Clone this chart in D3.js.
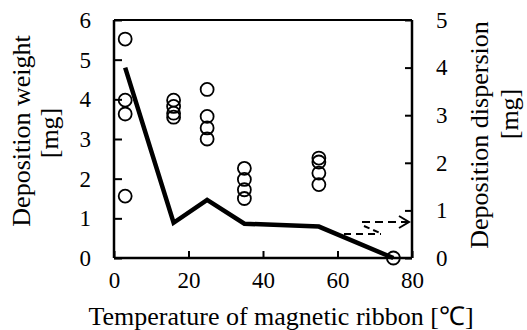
<!DOCTYPE html>
<html><head><meta charset="utf-8">
<script src="https://cdn.jsdelivr.net/npm/d3@7"></script>
<style>body{margin:0;background:#fff}svg{display:block}</style>
</head><body>
<script>
const temps = [3, 16, 25, 35, 55, 75];
const weights = [
  [5.52, 3.98, 3.63, 1.56],
  [3.98, 3.82, 3.65, 3.55],
  [4.25, 3.57, 3.28, 3.0],
  [2.26, 1.98, 1.72, 1.5],
  [2.52, 2.42, 2.14, 1.85],
  [0]
];
const dispersion = [4.0, 0.74, 1.22, 0.72, 0.66, 0];
const xTicks = [0, 20, 40, 60, 80];
const yLeftTicks = [0, 1, 2, 3, 4, 5, 6];
const yRightTicks = [0, 1, 2, 3, 4, 5];

const FONT = "Liberation Serif";
const W = 527, H = 330;
const L = 114, R = 412, T = 20, B = 258;
const svg = d3.select("body").append("svg").attr("width", W).attr("height", H)
  .attr("font-family", FONT);
const x = d3.scaleLinear().domain([0, 80]).range([L, R]);
const yL = d3.scaleLinear().domain([0, 6]).range([B, T]);
const yR = d3.scaleLinear().domain([0, 5]).range([B, T]);

svg.append("line").attr("x1", L).attr("x2", R).attr("y1", T).attr("y2", T).attr("stroke", "#000").attr("stroke-width", 2);

const axB = svg.append("g").attr("transform", `translate(0,${B})`)
  .call(d3.axisBottom(x).tickValues(xTicks).tickSize(-7).tickPadding(14).tickFormat(d3.format("d")));
const axL = svg.append("g").attr("transform", `translate(${L},0)`)
  .call(d3.axisLeft(yL).tickValues(yLeftTicks).tickSize(-8).tickPadding(23).tickFormat(d3.format("d")));
const axR = svg.append("g").attr("transform", `translate(${R},0)`)
  .call(d3.axisRight(yR).tickValues(yRightTicks).tickSize(-7).tickPadding(24).tickFormat(d3.format("d")));
[axB, axL, axR].forEach(a => {
  a.attr("font-family", FONT).attr("font-size", 23);
  a.select(".domain").attr("stroke", "#000").attr("stroke-width", 2.5);
  a.selectAll(".tick line").attr("stroke", "#000").attr("stroke-width", 2);
  a.selectAll(".tick text").attr("fill", "#000").attr("font-family", FONT).attr("font-size", 23);
});
axB.select(".domain").attr("d", `M${L},0H${R}`);
axL.select(".domain").attr("d", `M0,${B}V${T}`);
axR.select(".domain").attr("d", `M0,${B}V${T}`);

const pts = [];
temps.forEach((t, i) => weights[i].forEach(w => pts.push({t, w})));
svg.append("g").selectAll("circle").data(pts).join("circle")
  .attr("cx", d => x(d.t)).attr("cy", d => yL(d.w)).attr("r", 6.5)
  .attr("fill", "none").attr("stroke", "#000").attr("stroke-width", 1.8);

const line = d3.line().x((d, i) => x(temps[i])).y(d => yR(d));
svg.append("path").datum(dispersion).attr("d", line)
  .attr("fill", "none").attr("stroke", "#000").attr("stroke-width", 4.5).attr("stroke-linejoin", "miter");

const ar = svg.append("g").attr("stroke", "#000").attr("stroke-width", 2).attr("fill", "none");
ar.append("path").attr("d", "M362,222H408").attr("stroke-dasharray", "8,5");
ar.append("path").attr("d", "M399,216L409,222L399,228");
ar.append("path").attr("d", "M344,234H381").attr("stroke-dasharray", "7,5");
ar.append("path").attr("d", "M364,226L380,233").attr("stroke-dasharray", "6,4");

function title(tf, txt) {
  return svg.append("text").attr("transform", tf).attr("text-anchor", "middle")
    .attr("font-family", FONT).attr("font-size", 26).attr("fill", "#000").text(txt);
}
title("translate(281,325)", "Temperature of magnetic ribbon [℃]");
title("translate(30,131) rotate(-90)", "Deposition weight");
title("translate(58,133) rotate(-90)", "[mg]");
title("translate(488,135) rotate(-90)", "Deposition dispersion");
title("translate(518,114) rotate(-90)", "[mg]");
</script>
</body></html>
